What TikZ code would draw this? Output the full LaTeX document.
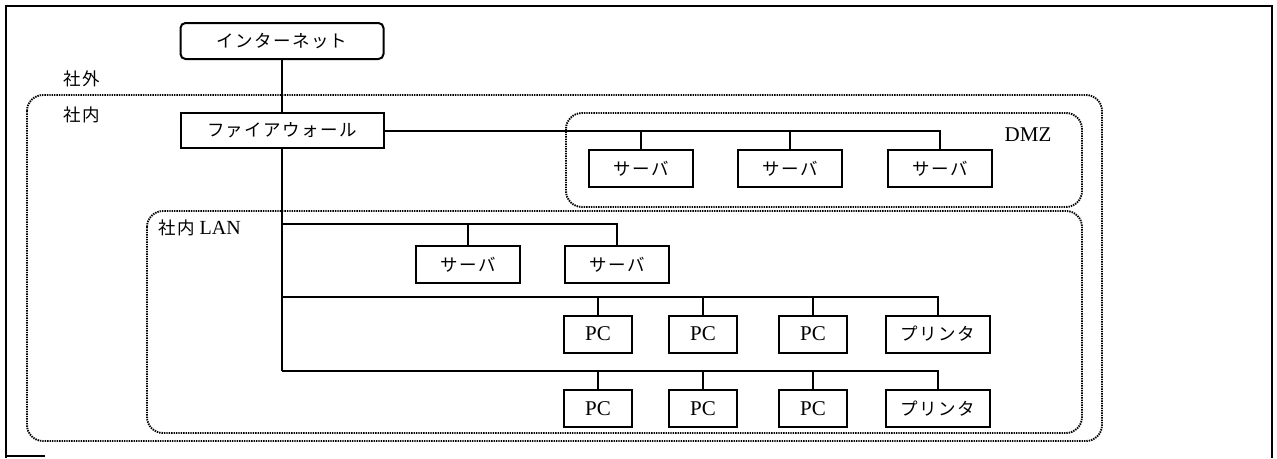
\documentclass[tikz,border=0pt]{standalone}
\usepackage{fontspec}
\setmainfont{Liberation Serif}
\newfontfamily\jp[LetterSpace=8]{Noto Sans CJK JP}
\begin{document}
\begin{tikzpicture}[x=1pt,y=-1pt,
  box/.style={draw,line width=2pt,inner sep=0pt,font=\jp\fontsize{17.5}{19}\selectfont},
  pcbox/.style={box,minimum width=68pt,minimum height=37pt,font=\fontsize{21}{23}\selectfont},
  srvbox/.style={box,minimum width=104pt,minimum height=37pt},
  prbox/.style={box,minimum width=104pt,minimum height=37pt},
  wire/.style={line width=2pt},
  zone/.style={line width=1.9pt,dash pattern=on 1.4pt off 1pt,rounded corners=16pt},
  lbl/.style={inner sep=0pt,font=\jp\fontsize{17.5}{19}\selectfont}]
\useasboundingbox (0,0) rectangle (1277,458);
% outer frame
\draw[line width=2pt] (6,458) -- (6,6) -- (1272,6) -- (1272,458);
\draw[line width=2pt] (6,456) -- (45,456);
% zones
\draw[zone] (27,95) rectangle (1102,441);
\draw[zone] (566,113) rectangle (1082,207);
\draw[zone] (147,211) rectangle (1082,433);
% labels
\node[lbl] (outside) at (82,79) {社外};
\node[lbl] (inside) at (82,115) {社内};
\node[inner sep=0pt,font=\fontsize{21}{23}\selectfont] (dmzl) at (1028,135) {DMZ};
\node[inner sep=0pt,anchor=west,font=\fontsize{20}{22}\selectfont] (lanl) at (158,228) {{\jp\fontsize{17.5}{19}\selectfont 社内}\ LAN};
% nodes
\node[box,rounded corners=5pt,minimum width=203pt,minimum height=36pt] (inet) at (282,41) {インターネット};
\node[box,minimum width=203pt,minimum height=35pt] (fw) at (282,130.5) {ファイアウォール};
\node[srvbox] (d1) at (641,168.5) {サーバ};
\node[srvbox] (d2) at (790,168.5) {サーバ};
\node[srvbox] (d3) at (940,168.5) {サーバ};
\node[srvbox] (s1) at (468,264.5) {サーバ};
\node[srvbox] (s2) at (617,264.5) {サーバ};
\node[pcbox] (p1) at (598,334) {PC};
\node[pcbox] (p2) at (703,334) {PC};
\node[pcbox] (p3) at (813,334) {PC};
\node[prbox] (pr1) at (938,334) {プリンタ};
\node[pcbox] (q1) at (598,408.5) {PC};
\node[pcbox] (q2) at (703,408.5) {PC};
\node[pcbox] (q3) at (813,408.5) {PC};
\node[prbox] (pr2) at (938,408.5) {プリンタ};
% bus coordinates
\coordinate (b1) at (282,224);
\coordinate (b2) at (282,297);
\coordinate (b3) at (282,371);
% connectors
\draw[wire] (inet) -- (fw);
\draw[wire] (fw.south) -- (b3);
\draw[wire] (fw.east) -| (d3.north);
\draw[wire] (d1.north) -- (d1.north |- fw.east);
\draw[wire] (d2.north) -- (d2.north |- fw.east);
\draw[wire] (b1) -| (s2.north);
\draw[wire] (s1.north) -- (s1.north |- b1);
\draw[wire] (b2) -| (pr1.north);
\draw[wire] (p1.north) -- (p1.north |- b2);
\draw[wire] (p2.north) -- (p2.north |- b2);
\draw[wire] (p3.north) -- (p3.north |- b2);
\draw[wire] (b3) -| (pr2.north);
\draw[wire] (q1.north) -- (q1.north |- b3);
\draw[wire] (q2.north) -- (q2.north |- b3);
\draw[wire] (q3.north) -- (q3.north |- b3);
\end{tikzpicture}
\end{document}
